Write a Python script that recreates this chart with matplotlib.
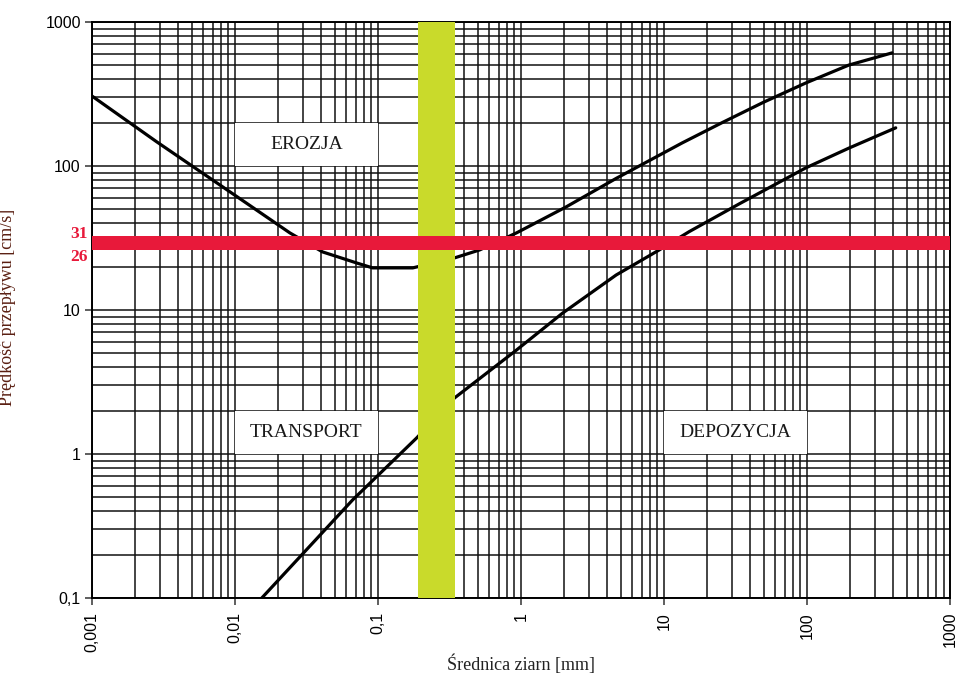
import matplotlib
matplotlib.use("Agg")
import matplotlib.pyplot as plt
from matplotlib.patches import Rectangle
from matplotlib.ticker import FixedLocator, FixedFormatter, LogLocator, NullFormatter

# erosion curve (upper)
ero_d = [0.001, 0.00284, 0.00822, 0.0242, 0.041, 0.071, 0.0917, 0.175, 0.343,
         0.513, 0.93, 2.07, 4.63, 13.4, 25.5, 50, 98, 196, 393]
ero_v = [306, 147, 71.5, 34.3, 25.3, 21.2, 19.6, 19.6, 23,
         26.1, 34.3, 52, 82, 144.6, 200, 278, 377, 502, 610]

# deposition curve (lower)
dep_d = [0.0154, 0.0665, 0.186, 0.343, 0.93, 1.95, 4.63, 9.25, 15, 33.5, 98, 196, 417]
dep_v = [0.1, 0.48, 1.29, 2.45, 5.27, 9.5, 17.5, 26.1, 35, 54.5, 97, 133, 184]

# highlighted ranges
grain_band = [0.19, 0.345]
speed_band = [26, 32.5]
speed_labels = ["31", "26"]
speed_label_y = [33.5, 23.3]

# zone labels: text, box x-range, box y-range
zone_names = ["EROZJA", "TRANSPORT", "DEPOZYCJA"]
zone_x = [(0.01, 0.1), (0.01, 0.1), (10, 100)]
zone_y = [(100, 200), (1, 2), (1, 2)]

x_ticks = [0.001, 0.01, 0.1, 1, 10, 100, 1000]
x_tick_labels = ["0,001", "0,01", "0,1", "1", "10", "100", "1000"]
y_ticks = [0.1, 1, 10, 100, 1000]
y_tick_labels = ["0,1", "1", "10", "100", "1000"]

plt.rcParams["font.family"] = ["Liberation Sans", "DejaVu Sans"]
serif = ["Liberation Serif", "DejaVu Serif"]

fig = plt.figure(figsize=(9.61, 6.76), dpi=100)
ax = fig.add_axes([0.0957, 0.1154, 0.8929, 0.8521])
ax.set_xscale("log")
ax.set_yscale("log")
ax.set_xlim(0.001, 1000)
ax.set_ylim(0.1, 1000)

ax.xaxis.set_major_locator(FixedLocator(x_ticks))
ax.xaxis.set_major_formatter(FixedFormatter(x_tick_labels))
ax.yaxis.set_major_locator(FixedLocator(y_ticks))
ax.yaxis.set_major_formatter(FixedFormatter(y_tick_labels))
ax.xaxis.set_minor_locator(LogLocator(base=10, subs=range(2, 10), numticks=20))
ax.yaxis.set_minor_locator(LogLocator(base=10, subs=range(2, 10), numticks=20))
ax.xaxis.set_minor_formatter(NullFormatter())
ax.yaxis.set_minor_formatter(NullFormatter())

ax.grid(True, which="both", color="#111111", linewidth=1.1, zorder=0)
ax.set_axisbelow(True)
ax.tick_params(which="major", length=5, width=1.1, labelsize=11.5, color="#333333")
ax.tick_params(which="minor", length=0)
ax.tick_params(axis="x", labelrotation=90, pad=5)
ax.tick_params(axis="y", pad=3)
for s in ax.spines.values():
    s.set_linewidth(1.4)

# white boxes behind zone names
for name, (x0, x1), (y0, y1) in zip(zone_names, zone_x, zone_y):
    ax.add_patch(Rectangle((x0, y0), x1 - x0, y1 - y0, facecolor="white",
                           edgecolor="none", zorder=1.5))
    xc = (x0 * x1) ** 0.5
    yc = (y0 * y1) ** 0.5
    ax.text(xc, yc, name, ha="center", va="center", fontsize=14,
            family=serif, color="#1a1a1a", zorder=1.6)

ax.plot(ero_d, ero_v, color="black", linewidth=2.3, zorder=2,
        solid_joinstyle="round", solid_capstyle="round")
ax.plot(dep_d, dep_v, color="black", linewidth=2.3, zorder=2,
        solid_joinstyle="round", solid_capstyle="round")

ax.axvspan(grain_band[0], grain_band[1], color="#c9da2b", zorder=3, linewidth=0)
ax.axhspan(speed_band[0], speed_band[1], color="#e8193a", zorder=4, linewidth=0)

trans = ax.get_yaxis_transform()
for lab, yv in zip(speed_labels, speed_label_y):
    ax.text(-0.005, yv, lab, transform=trans, ha="right", va="center",
            fontsize=12.5, fontweight="bold", family=serif, color="#e8193a")

ax.set_xlabel("Średnica ziarn [mm]", family=serif, fontsize=13, color="#222222", labelpad=2)
ax.set_ylabel("Prędkość przepływu [cm/s]", family=serif, fontsize=13, color="#5a1f12")
ax.yaxis.set_label_coords(-0.088, 0.505)

fig.savefig("out.png", dpi=100)
